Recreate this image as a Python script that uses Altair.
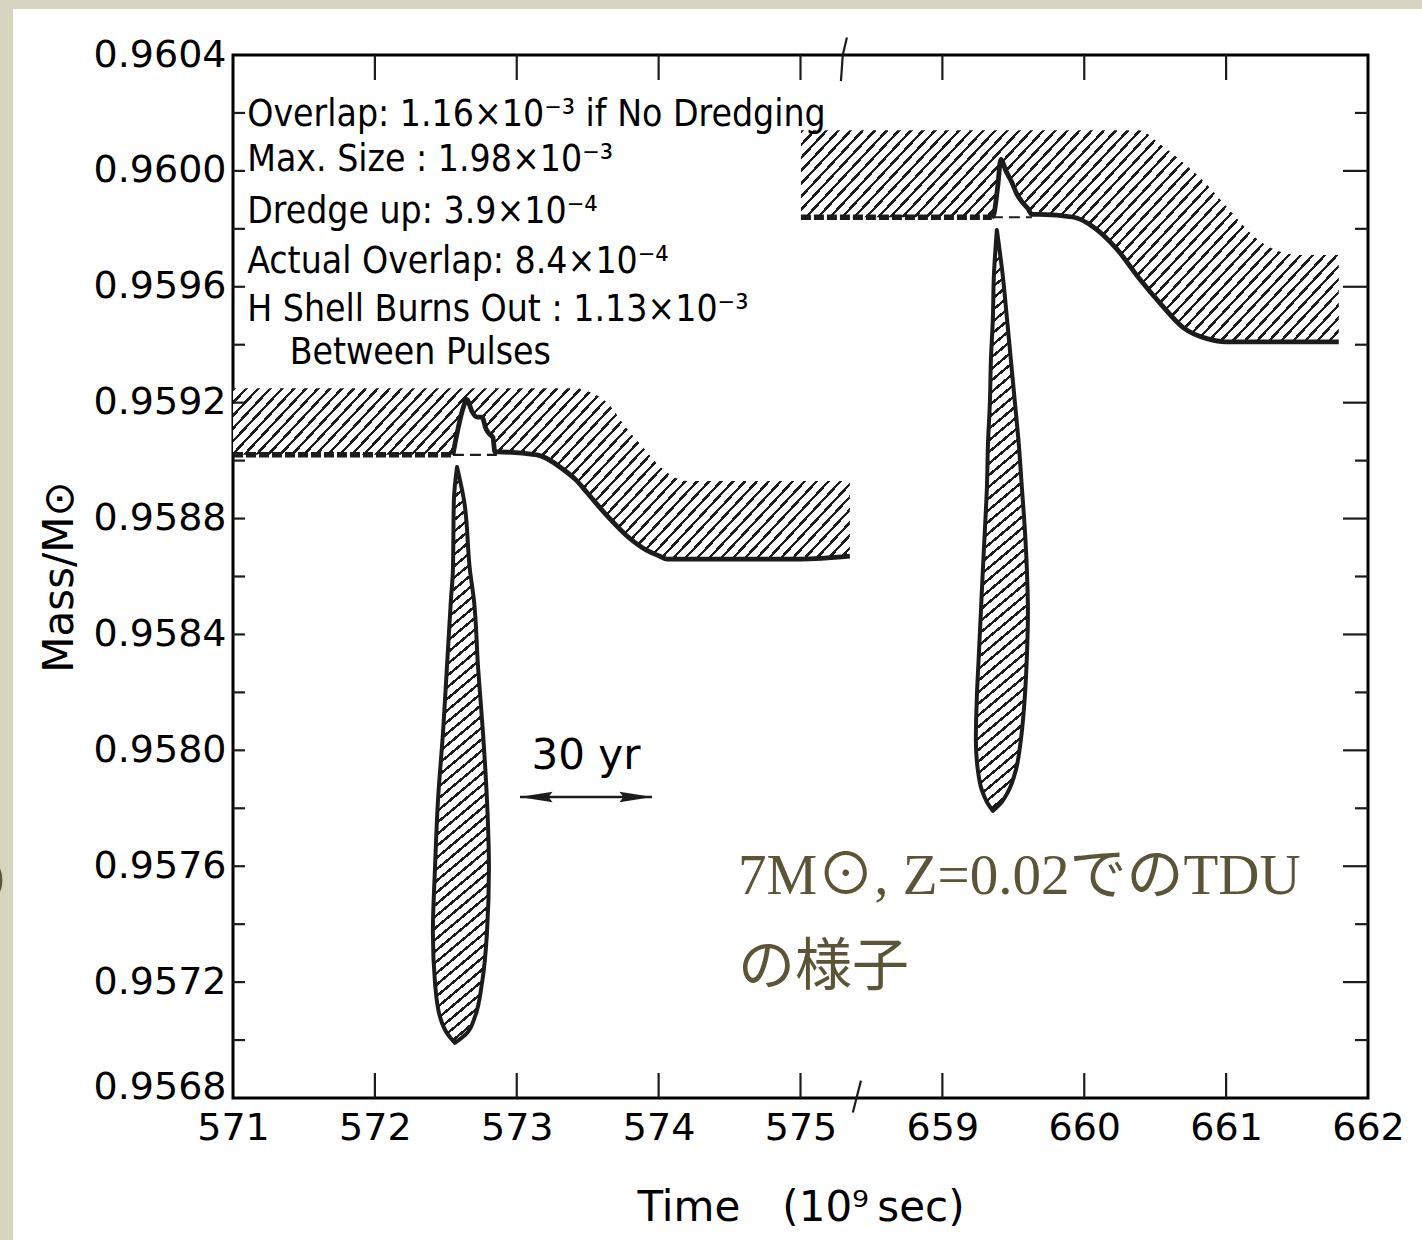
import math
import altair as alt
import pandas as pd

# Broken time axis: 571-575 on the left, 659-662 on the right (units of 10^9 s).
SEG_A, SEG_B = 571.0, 654.0
U_MAX = 8.0
M_MIN, M_MAX = 0.9568, 0.9604
PLOT_W, PLOT_H = 1135, 1043
PAD = {"left": 233, "top": 55, "right": 54, "bottom": 142}

FONT = "DejaVu Sans"
NOTE_FONT = "DejaVu Sans Condensed, DejaVu Sans"
JP_FONT = "Liberation Serif, Noto Sans CJK JP"
INK = "#1c1c1c"
JP_COLOR = "#5b5437"
BEIGE = "#d7d5bf"


def to_u(t):
    """Position along the broken axis."""
    return t - SEG_A if t < 600 else t - SEG_B


# ---- first pulse: hatched convective shell above the core boundary ----
band1_t = [571.000, 572.550, 572.586, 572.621, 572.649, 572.684, 572.720, 572.755,
           572.783, 572.811, 572.832, 572.846, 572.860, 573.142, 573.326, 573.424,
           573.495, 573.636, 573.777, 573.918, 574.009, 574.058, 574.199, 574.500,
           575.000, 575.348]
band1_top = [0.95925, 0.95925, 0.95925, 0.95925, 0.95925, 0.95925, 0.95925, 0.95925,
             0.95925, 0.95925, 0.95925, 0.95925, 0.95925, 0.95925, 0.95925, 0.95925,
             0.95924, 0.95920, 0.95911, 0.95903, 0.95898, 0.95896, 0.95893, 0.95893,
             0.95893, 0.95893]
band1_bot = [0.95902, 0.95902, 0.95911, 0.95918, 0.95921, 0.95917, 0.95915, 0.95915,
             0.95911, 0.95909, 0.95908, 0.95903, 0.95903, 0.95902, 0.95897, 0.95893,
             0.95889, 0.95881, 0.95874, 0.95869, 0.95867, 0.95866, 0.95866, 0.95866,
             0.95866, 0.95867]
band1_spike = (572.550, 572.860)

# ---- second pulse ----
band2_t = [658.003, 659.349, 659.363, 659.391, 659.412, 659.448, 659.490, 659.525,
           659.567, 659.603, 659.631, 659.687, 659.927, 660.054, 660.230, 660.385,
           660.540, 660.695, 660.871, 660.998, 661.259, 661.512, 661.794]
band2_top = [0.96014, 0.96014, 0.96014, 0.96014, 0.96014, 0.96014, 0.96014, 0.96014,
             0.96014, 0.96014, 0.96014, 0.96014, 0.96014, 0.96014, 0.96014, 0.96014,
             0.96009, 0.96003, 0.95995, 0.95988, 0.95975, 0.95971, 0.95971]
band2_bot = [0.95984, 0.95984, 0.95985, 0.95995, 0.96004, 0.96000, 0.95996, 0.95992,
             0.95989, 0.95987, 0.95985, 0.95985, 0.95984, 0.95981, 0.95973, 0.95963,
             0.95954, 0.95946, 0.95942, 0.95941, 0.95941, 0.95941, 0.95941]
band2_spike = (659.349, 659.631)

# ---- intershell convective zones (pulse lobes) ----
lobe1_m = [0.958978, 0.958864, 0.958622, 0.958519, 0.958288, 0.958060, 0.957829,
           0.957597, 0.957370, 0.957197, 0.957080, 0.957024, 0.956990]
lobe1_lo = [572.579, 572.557, 572.550, 572.536, 572.508, 572.480, 572.445,
            572.424, 572.409, 572.424, 572.459, 572.508, 572.564]
lobe1_hi = [572.579, 572.628, 572.670, 572.698, 572.727, 572.762, 572.790,
            572.804, 572.790, 572.755, 572.705, 572.649, 572.564]

lobe2_m = [0.959796, 0.959637, 0.959492, 0.959347, 0.959202, 0.959054, 0.958909,
           0.958764, 0.958619, 0.958474, 0.958329, 0.958184, 0.958036, 0.957932,
           0.957863, 0.957822, 0.957791]
lobe2_lo = [659.384, 659.363, 659.356, 659.342, 659.335, 659.321, 659.314,
            659.300, 659.285, 659.271, 659.257, 659.243, 659.236, 659.250,
            659.278, 659.314, 659.356]
lobe2_hi = [659.384, 659.426, 659.455, 659.483, 659.511, 659.539, 659.560,
            659.581, 659.596, 659.603, 659.596, 659.581, 659.553, 659.518,
            659.469, 659.419, 659.356]

# ---- axes ----
x_label_pos = list(range(9))
x_tick_pos = [1, 2, 3, 4, 5, 6, 7]
y_label_vals = [round(M_MIN + 0.0004 * i, 4) for i in range(10)]
y_minor_vals = [round(M_MIN + 0.0002 * i, 4) for i in range(1, 18)]
y_long_right = [v for v in y_minor_vals if round(v * 1e4) % 4 == 0]
y_short_right = [v for v in y_minor_vals if round(v * 1e4) % 4 != 0]
break_top_u = [4.327, 4.298, 4.285]
break_top_m = [0.96046, 0.96040, 0.96031]
break_bot_u = [4.426, 4.369]
break_bot_m = [0.95686, 0.95675]

# ---- annotations ----
notes = ["Overlap: 1.16×10⁻³ if No Dredging",
         "Max. Size : 1.98×10⁻³",
         "Dredge up:  3.9×10⁻⁴",
         "Actual Overlap: 8.4×10⁻⁴",
         "H Shell Burns Out : 1.13×10⁻³",
         "Between Pulses"]
notes_u = [0.10, 0.10, 0.10, 0.10, 0.10, 0.40]
notes_m = [0.960193, 0.960038, 0.959858, 0.959686, 0.959520, 0.959371]

scale_bar_t = [573.023, 573.953]
scale_bar_m = 0.957839
scale_bar_label = "30 yr"
scale_bar_label_m = 0.957980

jp_lines = ["7M⊙, Z=0.02でのTDU", "の様子"]
jp_u = [3.56, 3.56]
jp_m = [0.957563, 0.957249]


def hatch(u_lo, u_hi, m_lo, m_hi, angle=47.0, period=8.8, ink_frac=0.28):
    """Diagonal hatching as a hard-stop linear gradient over the mark's bounding box."""
    bw = (u_hi - u_lo) / U_MAX * PLOT_W
    bh = (m_hi - m_lo) / (M_MAX - M_MIN) * PLOT_H
    s, c = math.sin(math.radians(angle)), math.cos(math.radians(angle))
    span = bw * s + bh * c
    ss = (bw * s) ** 2 + (bh * c) ** 2
    n = max(1, round(span / period))
    stops = []
    for i in range(n):
        a, b, e = i / n, (i + ink_frac) / n, (i + 1) / n
        stops += [{"offset": round(a, 5), "color": INK},
                  {"offset": round(b, 5), "color": INK},
                  {"offset": round(b, 5), "color": "white"},
                  {"offset": round(e, 5), "color": "white"}]
    return {"gradient": "linear", "x1": 0, "y1": 0,
            "x2": span * bw * s / ss, "y2": span * bh * c / ss, "stops": stops}


x_axis = alt.Axis(values=x_label_pos,
                  labelExpr=f"datum.value <= 4 ? format(datum.value + {SEG_A:g}, 'd') : format(datum.value + {SEG_B:g}, 'd')",
                  ticks=False, tickSize=0, domain=False, grid=False,
                  labelFont=FONT, labelFontSize=38, labelColor="black", labelPadding=11,
                  labelFlush=False, labelOverlap=False,
                  title="Time\u2002\u2002(10⁹\u2009sec)", titleFont=FONT, titleFontSize=42,
                  titleFontWeight="normal", titleColor="black", titlePadding=40)
y_axis = alt.Axis(values=y_label_vals, format=".4f",
                  ticks=False, tickSize=0, domain=False, grid=False,
                  labelFont=FONT, labelFontSize=38, labelColor="black", labelPadding=7,
                  labelBaseline={"condition": {"test": f"datum.value < {M_MIN + 0.00001}",
                                               "value": "alphabetic"},
                                 "value": "middle"},
                  labelOverlap=False, labelFlush=False,
                  title="Mass/M⊙", titleFont=FONT, titleFontSize=42,
                  titleFontWeight="normal", titleColor="black", titlePadding=12)

X = alt.X("u:Q", scale=alt.Scale(domain=[0, U_MAX], nice=False, zero=False), axis=x_axis)
Y = alt.Y("m:Q", scale=alt.Scale(domain=[M_MIN, M_MAX], nice=False, zero=False), axis=y_axis)

one = pd.DataFrame({"k": [0]})
layers = []

# page border strips
layers.append(alt.Chart(one).mark_rect(color=BEIGE).encode(
    x=alt.value(-PAD["left"]), x2=alt.value(PLOT_W + PAD["right"]),
    y=alt.value(-PAD["top"]), y2=alt.value(-PAD["top"] + 9)))
layers.append(alt.Chart(one).mark_rect(color=BEIGE).encode(
    x=alt.value(-PAD["left"]), x2=alt.value(-PAD["left"] + 13),
    y=alt.value(-PAD["top"]), y2=alt.value(PLOT_H + PAD["bottom"])))

for bt, btop, bbot, spike in [(band1_t, band1_top, band1_bot, band1_spike),
                              (band2_t, band2_top, band2_bot, band2_spike)]:
    df = pd.DataFrame({"u": [to_u(t) for t in bt], "m": btop, "m2": bbot})
    fill = hatch(df.u.min(), df.u.max(), min(bbot), max(btop))
    layers.append(alt.Chart(df).mark_area(fill=fill, fillOpacity=1, strokeWidth=0,
                                          interpolate="monotone").encode(
        x=X, y=Y, y2="m2:Q"))
    edge = pd.DataFrame({"u": [to_u(t) for t in bt], "m": bbot, "k": range(len(bt))})
    pre = edge[[t <= spike[0] for t in bt]]
    post = edge[[t >= spike[0] for t in bt]]
    layers.append(alt.Chart(pre).mark_line(color=INK, strokeWidth=5.5, strokeDash=[10, 3],
                                           strokeCap="butt").encode(x=X, y=Y, order="k:Q"))
    layers.append(alt.Chart(post).mark_line(color=INK, strokeWidth=4.8, strokeJoin="round",
                                            interpolate="monotone").encode(
        x=X, y=Y, order="k:Q"))
    under = pd.DataFrame({"u": [to_u(spike[0]), to_u(spike[1])], "m": [bbot[0], bbot[0]]})
    layers.append(alt.Chart(under).mark_line(color=INK, strokeWidth=2.2,
                                             strokeDash=[11, 6]).encode(x=X, y=Y))

for lm, llo, lhi in [(lobe1_m, lobe1_lo, lobe1_hi), (lobe2_m, lobe2_lo, lobe2_hi)]:
    df = pd.DataFrame({"m": lm, "u": [to_u(t) for t in llo], "u2": [to_u(t) for t in lhi]})
    fill = hatch(df.u.min(), df.u2.max(), min(lm), max(lm), angle=40.0, period=8.8)
    layers.append(alt.Chart(df).mark_area(orient="horizontal", fill=fill, fillOpacity=1,
                                          stroke=INK, strokeWidth=4, strokeJoin="round",
                                          interpolate="monotone").encode(
        y=Y, x=X, x2="u2:Q"))

# inward ticks on all four sides
layers.append(alt.Chart(pd.DataFrame({"m": y_minor_vals})).mark_rule(
    color=INK, strokeWidth=2.2).encode(y=Y, x=alt.value(0), x2=alt.value(12)))
layers.append(alt.Chart(pd.DataFrame({"m": y_long_right})).mark_rule(
    color=INK, strokeWidth=2.2).encode(y=Y, x=alt.value(PLOT_W - 25), x2=alt.value(PLOT_W)))
layers.append(alt.Chart(pd.DataFrame({"m": y_short_right})).mark_rule(
    color=INK, strokeWidth=2.2).encode(y=Y, x=alt.value(PLOT_W - 13), x2=alt.value(PLOT_W)))
layers.append(alt.Chart(pd.DataFrame({"u": x_tick_pos})).mark_rule(
    color=INK, strokeWidth=2.2).encode(x=X, y=alt.value(PLOT_H - 25), y2=alt.value(PLOT_H)))
layers.append(alt.Chart(pd.DataFrame({"u": x_tick_pos})).mark_rule(
    color=INK, strokeWidth=2.2).encode(x=X, y=alt.value(0), y2=alt.value(25)))

# axis break marks
for bu, bm in [(break_top_u, break_top_m), (break_bot_u, break_bot_m)]:
    df = pd.DataFrame({"u": bu, "m": bm, "k": range(len(bu))})
    layers.append(alt.Chart(df).mark_line(color=INK, strokeWidth=2.2).encode(
        x=X, y=Y, order="k:Q"))

# text block
layers.append(alt.Chart(pd.DataFrame({"u": notes_u, "m": notes_m, "txt": notes})).mark_text(
    font=NOTE_FONT, fontSize=37, align="left", baseline="middle", color="black").encode(
    x=X, y=Y, text="txt:N"))

# 30 yr scale bar
bar = pd.DataFrame({"u": [to_u(t) for t in scale_bar_t], "m": [scale_bar_m] * 2})
layers.append(alt.Chart(bar).mark_line(color=INK, strokeWidth=2.4).encode(x=X, y=Y))
layers.append(alt.Chart(bar.iloc[[0]]).mark_point(
    shape="M-1,0L1,-0.32L0.75,0L1,0.32Z", size=1100, filled=True, color=INK, opacity=1,
    xOffset=16).encode(x=X, y=Y))
layers.append(alt.Chart(bar.iloc[[1]]).mark_point(
    shape="M1,0L-1,-0.32L-0.75,0L-1,0.32Z", size=1100, filled=True, color=INK, opacity=1,
    xOffset=-16).encode(x=X, y=Y))
layers.append(alt.Chart(pd.DataFrame({"u": [bar.u.mean()], "m": [scale_bar_label_m],
                                      "txt": [scale_bar_label]})).mark_text(
    font=FONT, fontSize=42, align="center", baseline="middle", color="black").encode(
    x=X, y=Y, text="txt:N"))

# slide caption
layers.append(alt.Chart(pd.DataFrame({"u": jp_u, "m": jp_m, "txt": jp_lines})).mark_text(
    font=JP_FONT, fontSize=57, align="left", baseline="middle", color=JP_COLOR).encode(
    x=X, y=Y, text="txt:N"))
layers.append(alt.Chart(one).mark_text(
    text="り", font=JP_FONT, fontSize=56, align="right", baseline="middle",
    color=JP_COLOR).encode(x=alt.value(-PAD["left"] + 14), y=alt.value(830)))

chart = alt.layer(*layers).properties(
    width=PLOT_W, height=PLOT_H,
    autosize=alt.AutoSizeParams(type="none"),
    padding=PAD,
    background="white",
).configure_view(stroke="black", strokeWidth=3)

chart.save("out.html", embed_options={"renderer": "svg", "actions": False})
